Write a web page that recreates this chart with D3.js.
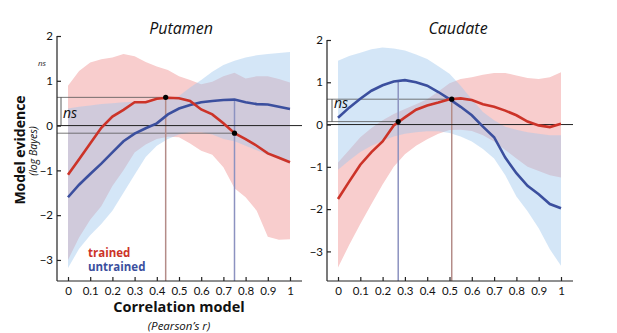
<!DOCTYPE html>
<html>
<head>
<meta charset="utf-8">
<script src="https://cdn.jsdelivr.net/npm/d3@7"></script>
<style>
  body { margin: 0; background: #fff; }
  text { font-family: "Open Sans", sans-serif; }
</style>
</head>
<body>
<div id="chart"></div>
<script>
// correlation model grid (Pearson's r)
var rGrid = [0, 0.05, 0.1, 0.15, 0.2, 0.25, 0.3, 0.35, 0.4, 0.45, 0.5, 0.55, 0.6, 0.65, 0.7, 0.75, 0.8, 0.85, 0.9, 0.95, 1];

// Putamen
var putTrained   = [-1.1, -0.75, -0.4, -0.05, 0.2, 0.35, 0.52, 0.52, 0.6, 0.62, 0.61, 0.55, 0.36, 0.25, 0.05, -0.17, -0.3, -0.45, -0.62, -0.72, -0.82];
var putTrainedHi = [0.89, 1.22, 1.41, 1.48, 1.52, 1.6, 1.55, 1.42, 1.32, 1.24, 1.1, 1.02, 0.92, 0.98, 1.1, 1.18, 1.05, 1.1, 1.1, 1.04, 0.96];
var putTrainedLo = [-3.0, -2.5, -2.1, -1.8, -1.35, -1.0, -0.6, -0.42, -0.3, -0.25, -0.26, -0.4, -0.56, -0.65, -0.93, -1.4, -1.6, -1.9, -2.48, -2.55, -2.54];
var putUntrained   = [-1.6, -1.32, -1.08, -0.85, -0.6, -0.35, -0.18, -0.06, 0.05, 0.25, 0.38, 0.46, 0.52, 0.55, 0.57, 0.58, 0.52, 0.48, 0.47, 0.42, 0.37];
var putUntrainedHi = [0.38, 0.42, 0.45, 0.48, 0.5, 0.52, 0.53, 0.55, 0.56, 0.6, 0.66, 0.85, 1.02, 1.2, 1.35, 1.45, 1.52, 1.57, 1.6, 1.62, 1.64];
var putUntrainedLo = [-3.18, -2.75, -2.45, -2.2, -1.9, -1.5, -1.1, -0.7, -0.45, -0.3, -0.2, -0.15, -0.15, -0.2, -0.3, -0.35, -0.45, -0.55, -0.65, -0.75, -0.85];

// Caudate
var cauTrained   = [-1.76, -1.35, -0.95, -0.65, -0.4, -0.02, 0.17, 0.35, 0.45, 0.52, 0.6, 0.62, 0.58, 0.48, 0.42, 0.33, 0.22, 0.07, -0.02, -0.06, 0.02];
var cauTrainedHi = [-0.9, -0.6, -0.3, -0.08, 0.1, 0.25, 0.37, 0.48, 0.6, 0.78, 0.98, 1.08, 1.12, 1.18, 1.22, 1.22, 1.16, 1.1, 1.08, 1.12, 1.24];
var cauTrainedLo = [-3.38, -2.85, -2.35, -1.88, -1.42, -1.0, -0.7, -0.5, -0.35, -0.22, -0.13, -0.12, -0.15, -0.25, -0.4, -0.6, -0.8, -1.0, -1.1, -1.2, -1.25];
var cauUntrained   = [0.16, 0.4, 0.61, 0.8, 0.93, 1.02, 1.05, 1.0, 0.92, 0.77, 0.6, 0.42, 0.22, -0.05, -0.3, -0.78, -1.15, -1.45, -1.65, -1.88, -1.98];
var cauUntrainedHi = [1.51, 1.62, 1.7, 1.78, 1.82, 1.8, 1.75, 1.66, 1.55, 1.38, 1.2, 0.92, 0.6, 0.3, 0.1, -0.05, -0.12, -0.18, -0.22, -0.25, -0.25];
var cauUntrainedLo = [-1.07, -0.85, -0.65, -0.5, -0.38, -0.28, -0.22, -0.18, -0.16, -0.16, -0.2, -0.28, -0.4, -0.58, -0.8, -1.2, -1.7, -2.05, -2.45, -2.95, -3.34];

// peak markers: [r, value]
var putPeakTrained = [0.44, 0.63];
var putPeakUntrained = [0.75, 0.58];
var putAtUntrainedPeak = [0.75, -0.17];
var cauPeakTrained = [0.51, 0.6];
var cauPeakUntrained = [0.27, 1.05];
var cauAtUntrainedPeak = [0.27, 0.07];

var xTicks = [0, 0.1, 0.2, 0.3, 0.4, 0.5, 0.6, 0.7, 0.8, 0.9, 1];
var xTickLabels = ["0", "0.1", "0.2", "0.3", "0.4", "0.5", "0.6", "0.7", "0.8", "0.9", "1"];
var yTicks = [-3, -2, -1, 0, 1, 2];

var redLine = "#cc3328", blueLine = "#3b4f9e";

var svg = d3.select("#chart")
  .append("svg")
    .attr("width", 617)
    .attr("height", 333);

function drawPanel(opt) {
  var x = d3.scaleLinear().domain([0, 1]).range([opt.x0, opt.x1]);
  var y = d3.scaleLinear().domain(opt.yDomain).range([281, opt.yTop]);
  var g = svg.append("g");

  var area = function(lo, hi) {
    return d3.area()
      .x(function(d, i) { return x(rGrid[i]) })
      .y0(function(d, i) { return y(lo[i]) })
      .y1(function(d, i) { return y(hi[i]) })(rGrid);
  };
  var line = function(v) {
    return d3.line()
      .x(function(d, i) { return x(rGrid[i]) })
      .y(function(d, i) { return y(v[i]) })(rGrid);
  };

  // confidence bands
  g.append("path").attr("d", area(opt.trLo, opt.trHi))
    .attr("fill", "#f8cdcd");
  g.append("path").attr("d", area(opt.unLo, opt.unHi))
    .attr("fill", "#9fc8ee").attr("fill-opacity", 0.45);

  // reference lines
  var ref = "#555";
  g.append("line").attr("x1", opt.axisX).attr("x2", x(opt.peakTr[0]))
    .attr("y1", y(opt.peakTr[1])).attr("y2", y(opt.peakTr[1]))
    .attr("stroke", ref).attr("stroke-width", 0.8);
  g.append("line").attr("x1", opt.axisX).attr("x2", x(opt.atUn[0]))
    .attr("y1", y(opt.atUn[1])).attr("y2", y(opt.atUn[1]))
    .attr("stroke", ref).attr("stroke-width", 0.8);
  // ns bracket
  g.append("line").attr("x1", opt.axisX + opt.brX).attr("x2", opt.axisX + opt.brX)
    .attr("y1", y(opt.peakTr[1])).attr("y2", y(opt.brLow))
    .attr("stroke", "#333").attr("stroke-width", 0.8);

  // vertical lines at peaks
  g.append("line").attr("x1", x(opt.peakTr[0])).attr("x2", x(opt.peakTr[0]))
    .attr("y1", y(opt.peakTr[1])).attr("y2", 281)
    .attr("stroke", "#b48c88").attr("stroke-width", 1.5);
  g.append("line").attr("x1", x(opt.peakUn[0])).attr("x2", x(opt.peakUn[0]))
    .attr("y1", y(opt.peakUn[1])).attr("y2", 281)
    .attr("stroke", "#8c92c0").attr("stroke-width", 1.5);

  // zero line
  g.append("line").attr("x1", opt.axisX).attr("x2", opt.x1 + 12)
    .attr("y1", y(0)).attr("y2", y(0))
    .attr("stroke", "#222").attr("stroke-width", 1);

  // curves
  g.append("path").attr("d", line(opt.un))
    .attr("fill", "none").attr("stroke", blueLine).attr("stroke-width", 2.6);
  g.append("path").attr("d", line(opt.tr))
    .attr("fill", "none").attr("stroke", redLine).attr("stroke-width", 2.6);

  // dots
  [opt.peakTr, opt.atUn].forEach(function(p) {
    g.append("circle").attr("cx", x(p[0])).attr("cy", y(p[1])).attr("r", 2.6).attr("fill", "#000");
  });

  // axes
  var yAxis = g.append("g")
    .attr("transform", "translate(" + opt.axisX + ",0)")
    .call(d3.axisLeft(y).tickValues(yTicks).tickSizeInner(-4).tickSizeOuter(0).tickPadding(4).tickFormat(d3.format("d")));
  var xAxis = g.append("g")
    .attr("transform", "translate(0,281)")
    .call(d3.axisBottom(x).tickValues(xTicks).tickSizeInner(-4).tickSizeOuter(0).tickPadding(6)
      .tickFormat(function(d, i) { return xTickLabels[i] }));
  xAxis.select(".domain").attr("d", "M" + opt.axisX + ",0H" + (opt.x1 + 12));
  yAxis.select(".domain").attr("d", "M0," + y(2) + "V281");
  [xAxis, yAxis].forEach(function(a) {
    a.selectAll("path, line").attr("stroke", "#222").attr("stroke-width", 1.2);
    a.selectAll("text").attr("font-size", 11.5).attr("fill", "#111")
      .style("font-family", "Lato, sans-serif");
  });

  // title
  g.append("text").attr("x", opt.titleX).attr("y", 34).attr("text-anchor", "middle")
    .attr("font-size", 16).attr("font-style", "italic").attr("fill", "#111").text(opt.title);

  // ns
  g.append("text").attr("x", opt.axisX + opt.brX + 2).attr("y", opt.nsY)
    .attr("font-size", 14).attr("font-style", "italic").attr("fill", "#111").text("ns");
}

drawPanel({
  title: "Putamen", titleX: 181, x0: 68, x1: 290, axisX: 57, yDomain: [-3.47, 2], yTop: 36,
  tr: putTrained, trLo: putTrainedLo, trHi: putTrainedHi,
  un: putUntrained, unLo: putUntrainedLo, unHi: putUntrainedHi,
  peakTr: putPeakTrained, peakUn: putPeakUntrained, atUn: putAtUntrainedPeak,
  brX: 4, brLow: 0, nsY: 118
});
drawPanel({
  title: "Caudate", titleX: 458, x0: 338, x1: 561, axisX: 327, yDomain: [-3.7, 2], yTop: 40,
  tr: cauTrained, trLo: cauTrainedLo, trHi: cauTrainedHi,
  un: cauUntrained, unLo: cauUntrainedLo, unHi: cauUntrainedHi,
  peakTr: cauPeakTrained, peakUn: cauPeakUntrained, atUn: cauAtUntrainedPeak,
  brX: 5, brLow: 0.07, nsY: 108
});

// small ns above left axis
svg.append("text").attr("x", 38).attr("y", 66).attr("font-size", 8).attr("font-style", "italic")
  .attr("fill", "#222").text("ns");

// y axis title
svg.append("text").attr("transform", "translate(25,150) rotate(-90)").attr("text-anchor", "middle")
  .attr("font-size", 14).attr("font-weight", "bold").attr("fill", "#111").text("Model evidence");
svg.append("text").attr("transform", "translate(37,151) rotate(-90)").attr("text-anchor", "middle")
  .attr("font-size", 10.5).attr("font-style", "italic").attr("fill", "#111").text("(log Bayes)");

// x axis title
svg.append("text").attr("x", 179).attr("y", 312).attr("text-anchor", "middle")
  .attr("font-size", 14.5).attr("font-weight", "bold").attr("fill", "#111").text("Correlation model");
svg.append("text").attr("x", 179).attr("y", 329.5).attr("text-anchor", "middle")
  .attr("font-size", 11.5).attr("font-style", "italic").attr("fill", "#111").text("(Pearson\u2019s r)");

// legend
svg.append("text").attr("x", 88).attr("y", 257).attr("font-size", 11.5).attr("font-weight", "bold")
  .attr("fill", redLine).text("trained");
svg.append("text").attr("x", 88).attr("y", 270.5).attr("font-size", 11.5).attr("font-weight", "bold")
  .attr("fill", blueLine).text("untrained");
</script>
</body>
</html>
